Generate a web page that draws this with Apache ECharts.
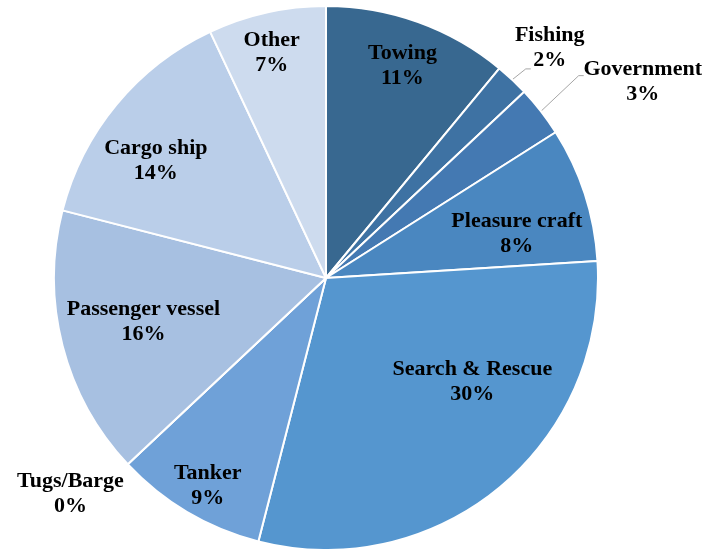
<!DOCTYPE html>
<html>
<head>
<meta charset="utf-8">
<script src="https://cdn.jsdelivr.net/npm/echarts@6/dist/echarts.min.js"></script>
<style>
  html, body { margin: 0; padding: 0; background: #ffffff; }
  #chart { width: 709px; height: 549px; }
</style>
</head>
<body>
<div id="chart"></div>
<script>
// Vessel categories, clockwise from 12 o'clock
const categories = ['Towing', 'Fishing', 'Government', 'Pleasure craft', 'Search & Rescue',
                    'Tanker', 'Tugs/Barge', 'Passenger vessel', 'Cargo ship', 'Other'];
// Share of each category (percent)
const shares = [11, 2, 3, 8, 30, 9, 0, 16, 14, 7];
// Slice fills
const sliceColors = ['#386890', '#3e72a3', '#4479b2', '#4a87c0', '#5596cf',
                     '#6fa1d8', '#8db1dd', '#a7c0e1', '#bacee9', '#cddbee'];
// Label placement: distance from centre (fraction of radius) and angular nudge (degrees)
const labelRadius = [0.83, 1.18, 1.37, 0.72, 0.66, 0.88, 1.23, 0.69, 0.76, 0.85];
const labelNudge  = [0, 1, 6, 5, -15, -1, 3, 1, -5, -1];
// Which labels sit outside the pie
const outsideLabel = [false, true, true, false, false, false, true, false, false, false];
// Leader line bend and end, relative to the label centre (null = no leader)
const leaderBend = [null, [-24, 21], [-64, -6], null, null, null, null, null, null, null];
const leaderEnd  = [null, [-19, 21], [-59, -6], null, null, null, null, null, null, null];

const CX = 326, CY = 278, R = 272;

const total = shares.reduce((a, b) => a + b, 0);
const midAngles = [];
let acc = 0;
shares.forEach(v => {
  midAngles.push((acc + v / 2) / total * 360);
  acc += v;
});

const chart = echarts.init(document.getElementById('chart'), null, { renderer: 'canvas' });

const data = categories.map((name, i) => ({
  name: name,
  value: shares[i],
  itemStyle: { color: sliceColors[i] },
  label: { position: outsideLabel[i] ? 'outside' : 'inside' },
  labelLine: {
    show: leaderBend[i] !== null,
    lineStyle: { color: '#a6a6a6', width: 1 }
  }
}));

chart.setOption({
  animation: false,
  backgroundColor: '#ffffff',
  series: [{
    type: 'pie',
    center: [CX, CY],
    radius: [0, R],
    startAngle: 90,
    clockwise: true,
    avoidLabelOverlap: false,
    stillShowZeroSum: true,
    minAngle: 0,
    itemStyle: { borderColor: '#ffffff', borderWidth: 2 },
    label: {
      show: true,
      formatter: p => p.name + '\n' + p.value + '%',
      fontFamily: '"Liberation Serif", "Times New Roman", serif',
      fontWeight: 'bold',
      fontSize: 22,
      lineHeight: 25,
      color: '#000000',
      align: 'center'
    },
    labelLine: { length: 10, length2: 6, smooth: false },
    labelLayout: function (p) {
      const i = p.dataIndex;
      const a = (midAngles[i] + labelNudge[i]) * Math.PI / 180;
      const d = labelRadius[i] * R;
      const x = CX + d * Math.sin(a);
      const y = CY - d * Math.cos(a);
      const out = { x: x, y: y, align: 'center', verticalAlign: 'middle' };
      if (leaderBend[i]) {
        const m = midAngles[i] * Math.PI / 180;
        out.labelLinePoints = [
          [CX + R * Math.sin(m), CY - R * Math.cos(m)],
          [x + leaderBend[i][0], y + leaderBend[i][1]],
          [x + leaderEnd[i][0], y + leaderEnd[i][1]]
        ];
      }
      return out;
    },
    emphasis: { disabled: true },
    data: data
  }]
});
</script>
</body>
</html>
